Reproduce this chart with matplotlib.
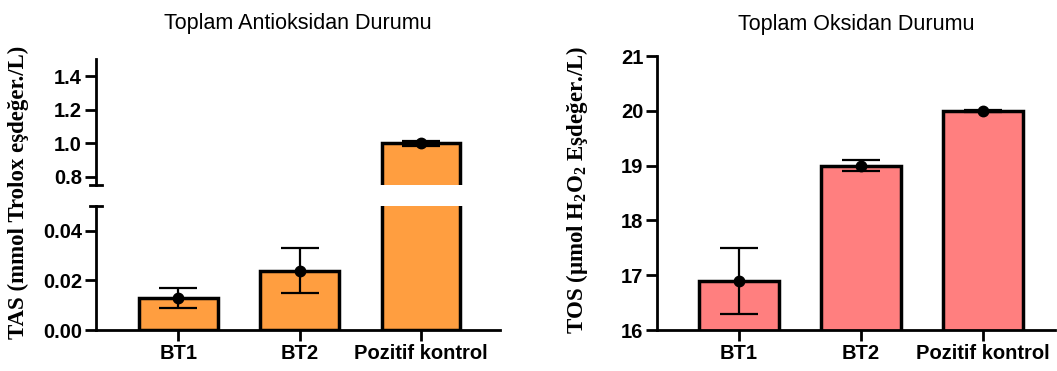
import matplotlib
matplotlib.use('Agg')
import matplotlib.pyplot as plt

plt.rcParams['font.family'] = 'Liberation Sans'
plt.rcParams['mathtext.fontset'] = 'custom'
plt.rcParams['mathtext.rm'] = 'Liberation Serif:bold'
plt.rcParams['mathtext.default'] = 'rm'

# data
groups = ['BT1', 'BT2', 'Pozitif kontrol']
tas_mean = [0.013, 0.024, 1.0]
tas_sd = [0.004, 0.009, 0.015]
tos_mean = [16.9, 19.0, 20.0]
tos_sd = [0.6, 0.1, 0.02]

tas_color = '#FF9E40'
tos_color = '#FF7F7F'
lw = 2.0
x = range(len(groups))


def draw_bars(ax, means, sds, color):
    ax.bar(x, means, width=0.65, color=color, edgecolor='black',
           linewidth=2.5, zorder=2)
    ax.errorbar(x, means, yerr=sds, fmt='o', color='black', markersize=7.5,
                elinewidth=1.6, capsize=14, capthick=1.6, zorder=3)


def style_axis(ax):
    for side in ['top', 'right']:
        ax.spines[side].set_visible(False)
    for side in ['left', 'bottom']:
        ax.spines[side].set_linewidth(lw)
    ax.tick_params(axis='both', width=lw, length=8, labelsize=14.5, pad=2)
    for lab in ax.get_yticklabels() + ax.get_xticklabels():
        lab.set_fontweight('bold')


fig = plt.figure(figsize=(10.57, 3.71), dpi=100)

# left panel: broken y axis
ax_up = fig.add_axes([0.0908, 0.5003, 0.382, 0.340])
ax_lo = fig.add_axes([0.0908, 0.1105, 0.382, 0.334])
for ax in (ax_up, ax_lo):
    draw_bars(ax, tas_mean, tas_sd, tas_color)
    ax.set_xlim(-0.68, 2.65)

ax_up.set_ylim(0.75, 1.5)
ax_up.set_yticks([0.8, 1.0, 1.2, 1.4])
ax_up.set_yticklabels(['0.8', '1.0', '1.2', '1.4'])
ax_up.spines['bottom'].set_visible(False)
ax_up.set_xticks([])
style_axis(ax_up)

ax_lo.set_ylim(0, 0.05)
ax_lo.set_yticks([0.0, 0.02, 0.04])
ax_lo.set_yticklabels(['0.00', '0.02', '0.04'])
ax_lo.set_xticks(list(x))
ax_lo.set_xticklabels(groups)
style_axis(ax_lo)

# break marks
ax_up.plot([-0.014, 0.014], [0, 0], transform=ax_up.transAxes, color='black',
           linewidth=lw, clip_on=False)
ax_lo.plot([-0.014, 0.014], [1, 1], transform=ax_lo.transAxes, color='black',
           linewidth=lw, clip_on=False)

ax_up.set_title('Toplam Antioksidan Durumu', fontsize=15.5, pad=22)
fig.text(0.017, 0.482, 'TAS (mmol Trolox eşdeğer./L)', rotation=90,
         ha='center', va='center', fontsize=16.5, fontweight='bold',
         family='Liberation Serif')

# right panel
ax_r = fig.add_axes([0.6216, 0.1105, 0.3765, 0.7385])
draw_bars(ax_r, tos_mean, tos_sd, tos_color)
ax_r.set_xlim(-0.672, 2.59)
ax_r.set_ylim(16, 21)
ax_r.set_yticks([16, 17, 18, 19, 20, 21])
ax_r.set_xticks(list(x))
ax_r.set_xticklabels(groups)
style_axis(ax_r)
ax_r.set_title('Toplam Oksidan Durumu', fontsize=15.5, pad=19)
fig.text(0.546, 0.488, r'TOS (µmol H$_2$O$_2$ Eşdeğer./L)', rotation=90,
         ha='center', va='center', fontsize=16.5, fontweight='bold',
         family='Liberation Serif')

fig.savefig('out.png', dpi=100)
